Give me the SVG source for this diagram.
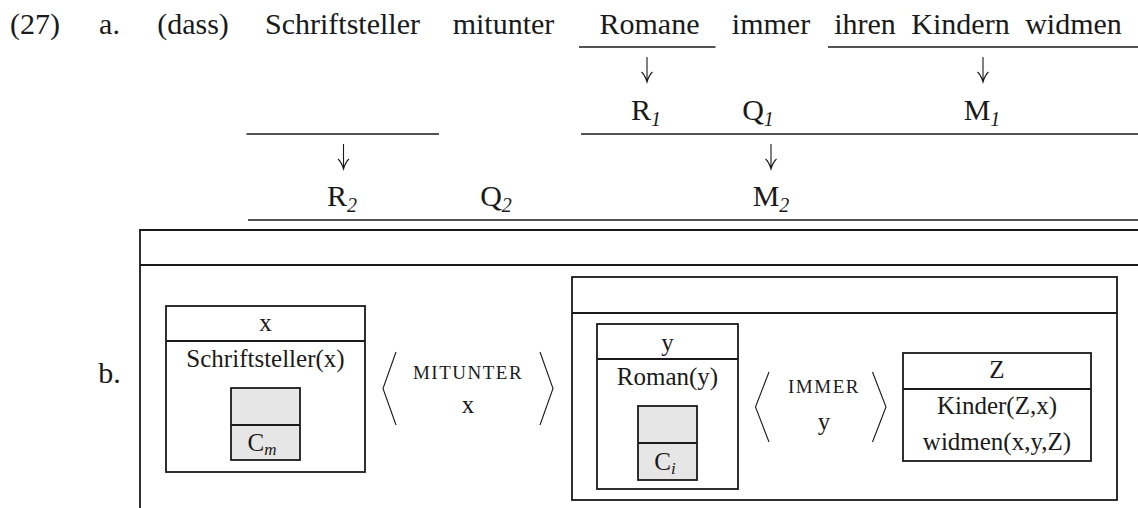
<svg xmlns="http://www.w3.org/2000/svg" width="1138" height="508" viewBox="0 0 1138 508" font-family="'Liberation Serif', 'DejaVu Serif', 'Times New Roman', serif">
<defs>
<style>
text{font-family:"Liberation Serif","DejaVu Serif","Times New Roman",serif;fill:#1a1a1a}
.t{font-size:30px;text-anchor:middle}
.b{font-size:25px;text-anchor:middle}
.sc{font-size:19px;letter-spacing:1.5px;text-anchor:middle}
.sub{font-style:italic;font-size:20px}
.bsub{font-style:italic;font-size:17px}
.ln{stroke:#1a1a1a;stroke-width:1.7;fill:none}
.box{stroke:#1a1a1a;stroke-width:1.8;fill:none}
.gray{stroke:#1a1a1a;stroke-width:1.8;fill:#e6e6e6}
.ang{stroke:#1a1a1a;stroke-width:1.1;fill:none}
</style>
<g id="darr"><path class="ang" d="M0,0 V25 M-5.5,15 Q-2,18 0,25 Q2,18 5.5,15"/></g>
</defs>
<rect width="1138" height="508" fill="#ffffff"/>

<g id="labels">
<text class="t" x="35" y="34">(27)</text>
<text class="t" x="109.5" y="34">a.</text>
<text class="t" x="109.5" y="383">b.</text>
</g>

<g id="sentence">
<text class="t" x="193" y="34">(dass)</text>
<text class="t" x="342.5" y="34">Schriftsteller</text>
<text class="t" x="503.5" y="34">mitunter</text>
<text class="t" x="649.5" y="34">Romane</text>
<text class="t" x="771" y="34">immer</text>
<text class="t" x="978" y="34" word-spacing="8">ihren Kindern widmen</text>
</g>

<g id="level1">
<text class="t" x="646" y="120">R<tspan class="sub" dy="6">1</tspan></text>
<text class="t" x="758" y="120">Q<tspan class="sub" dy="6">1</tspan></text>
<text class="t" x="982" y="120">M<tspan class="sub" dy="6">1</tspan></text>
</g>

<g id="level2">
<text class="t" x="342" y="206">R<tspan class="sub" dy="6">2</tspan></text>
<text class="t" x="496" y="206">Q<tspan class="sub" dy="6">2</tspan></text>
<text class="t" x="771" y="206">M<tspan class="sub" dy="6">2</tspan></text>
</g>

<g id="connectors">
<line class="ln" x1="579" y1="47" x2="715.5" y2="47"/>
<line class="ln" x1="828" y1="47" x2="1138" y2="47"/>
<use href="#darr" x="647" y="57"/>
<use href="#darr" x="983" y="57"/>
<line class="ln" x1="246.5" y1="134" x2="439" y2="134"/>
<line class="ln" x1="581" y1="134" x2="1138" y2="134"/>
<use href="#darr" x="343.5" y="144"/>
<use href="#darr" x="771" y="144"/>
<line class="ln" x1="248" y1="220" x2="1138" y2="220"/>
</g>

<g id="outer-box">
<path class="box" d="M1138,230 H140 V508"/>
<line class="box" x1="140" y1="265" x2="1138" y2="265"/>
</g>

<g id="box-x">
<rect class="box" x="166" y="306" width="199" height="166"/>
<line class="box" x1="166" y1="341" x2="365" y2="341"/>
<text class="b" x="265.5" y="331">x</text>
<text class="b" x="265.5" y="367">Schriftsteller(x)</text>
<rect class="gray" x="231" y="388" width="69" height="72"/>
<line class="box" x1="231" y1="425" x2="300" y2="425"/>
<text class="b" x="262" y="451">C<tspan class="bsub" dy="4">m</tspan></text>
</g>

<g id="mitunter">
<polyline class="ang" points="396,352 383,388.5 396,425"/>
<polyline class="ang" points="540,352 553,388.5 540,425"/>
<text class="sc" x="468" y="379">MITUNTER</text>
<text class="b" x="468" y="413">x</text>
</g>

<g id="inner-box">
<rect class="box" x="572" y="277" width="545" height="223"/>
<line class="box" x1="572" y1="313" x2="1117" y2="313"/>
</g>

<g id="box-y">
<rect class="box" x="597" y="324" width="141" height="165"/>
<line class="box" x1="597" y1="359" x2="738" y2="359"/>
<text class="b" x="667.5" y="351">y</text>
<text class="b" x="667.5" y="385">Roman(y)</text>
<rect class="gray" x="638" y="406" width="59" height="74"/>
<line class="box" x1="638" y1="443" x2="697" y2="443"/>
<text class="b" x="665" y="470">C<tspan class="bsub" dy="4">i</tspan></text>
</g>

<g id="immer">
<polyline class="ang" points="769,372 755.5,407 769,442"/>
<polyline class="ang" points="872.5,372 886,407 872.5,442"/>
<text class="sc" x="824" y="393">IMMER</text>
<text class="b" x="824" y="430">y</text>
</g>

<g id="box-z">
<rect class="box" x="903" y="353" width="188" height="108"/>
<line class="box" x1="903" y1="389" x2="1091" y2="389"/>
<text class="b" x="997" y="378">Z</text>
<text class="b" x="997" y="414">Kinder(Z,x)</text>
<text class="b" x="997" y="450">widmen(x,y,Z)</text>
</g>
</svg>
